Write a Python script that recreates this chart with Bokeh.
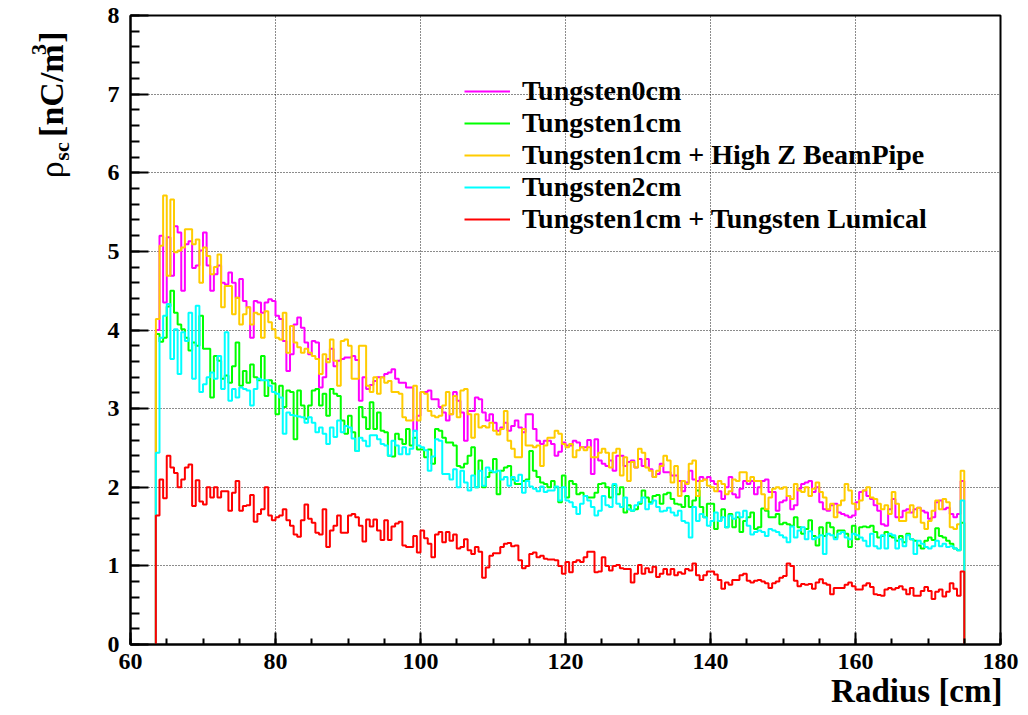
import numpy as np
from bokeh.plotting import figure
from bokeh.layouts import row
from bokeh.models import FixedTicker, Legend, LegendItem, Title
from bokeh.core.properties import value
from bokeh.embed import file_html
from bokeh.resources import INLINE

# ---------------- data ----------------
bin_lo = 63.5
bin_width = 0.5

x_ticks = [60, 80, 100, 120, 140, 160, 180]
y_ticks = [0, 1, 2, 3, 4, 5, 6, 7, 8]

names = ["Tungsten0cm", "Tungsten1cm", "Tungsten1cm + High Z BeamPipe",
         "Tungsten2cm", "Tungsten1cm + Tungsten Lumical"]
colors = ["#ff00ff", "#00ff00", "#ffcc00", "#00ffff", "#ff0000"]

tungsten0cm = [
    4.00, 5.20, 4.35, 5.18, 4.69, 5.32, 5.24, 4.50, 5.09, 5.13,
    4.79, 4.82, 5.01, 5.24, 4.82, 4.50, 4.71, 4.82, 4.60, 4.58,
    4.73, 4.60, 4.41, 4.65, 4.37, 4.29, 3.90, 4.37, 4.35, 4.22,
    4.35, 4.39, 4.37, 4.18, 4.14, 3.86, 3.48, 3.69, 4.07, 4.16,
    4.03, 3.84, 3.69, 3.86, 3.84, 3.27, 3.40, 3.63, 3.76, 3.54,
    3.61, 3.63, 3.65, 3.65, 3.67, 3.62, 3.10, 3.40, 3.25, 3.30,
    3.35, 3.40, 3.40, 3.44, 3.46, 3.50, 3.38, 3.33, 3.33, 3.27,
    3.27, 2.72, 2.91, 3.21, 3.21, 3.23, 3.12, 3.12, 3.02, 2.95,
    2.85, 2.93, 3.21, 3.10, 2.95, 2.59, 2.97, 2.97, 3.14, 3.12,
    2.95, 2.85, 2.93, 2.82, 2.72, 2.76, 2.82, 2.72, 2.78, 2.85,
    2.76, 2.70, 2.93, 2.93, 2.74, 2.59, 2.55, 2.59, 2.59, 2.55,
    2.40, 2.45, 2.57, 2.53, 2.53, 2.59, 2.57, 2.51, 2.51, 2.60,
    2.17, 2.61, 2.34, 2.30, 2.27, 2.34, 2.21, 2.40, 2.40, 2.27,
    2.32, 2.34, 2.25, 2.36, 2.27, 2.36, 2.23, 2.13, 2.17, 2.30,
    2.19, 2.19, 2.15, 2.15, 2.08, 1.95, 2.06, 2.21, 2.10, 2.08,
    2.13, 2.10, 2.13, 2.08, 2.04, 1.95, 1.85, 2.00, 2.13, 1.91,
    1.87, 1.98, 2.08, 2.04, 2.08, 1.91, 2.00, 2.08, 2.10, 1.94,
    1.94, 1.70, 1.81, 1.83, 1.89, 1.72, 1.77, 1.98, 2.04, 2.06,
    2.08, 1.94, 2.00, 1.81, 1.72, 1.70, 1.77, 1.79, 1.68, 1.66,
    1.64, 1.62, 1.64, 1.81, 1.94, 1.96, 1.89, 1.85, 1.77, 1.70,
    1.53, 1.51, 1.72, 1.85, 1.62, 1.62, 1.70, 1.72, 1.68, 1.72,
    1.74, 1.70, 1.68, 1.60, 1.62, 1.81, 1.83, 1.72, 1.74, 1.66,
    1.62, 1.66, 2.08,
]

tungsten1cm = [
    3.95, 3.85, 3.90, 4.30, 4.50, 4.22, 4.07, 4.01, 3.90, 3.74,
    3.84, 3.80, 4.18, 3.76, 3.76, 3.14, 3.67, 3.61, 3.38, 3.42,
    3.33, 3.54, 3.84, 3.29, 3.48, 3.33, 3.56, 3.40, 3.36, 3.67,
    3.16, 3.36, 3.32, 2.93, 3.29, 3.02, 3.23, 3.21, 2.61, 3.23,
    3.04, 2.87, 3.04, 3.23, 3.25, 3.04, 3.19, 2.91, 3.25, 3.19,
    3.16, 2.85, 2.68, 2.91, 2.70, 2.46, 3.02, 2.89, 2.74, 3.08,
    2.74, 2.95, 2.72, 2.70, 2.40, 2.39, 2.68, 2.61, 2.55, 2.74,
    2.53, 2.63, 2.48, 2.48, 2.38, 2.48, 2.30, 2.74, 2.72, 2.63,
    2.57, 2.57, 2.53, 2.27, 2.25, 2.30, 2.40, 2.51, 2.00, 2.34,
    2.00, 2.13, 2.19, 2.36, 1.91, 2.21, 2.25, 2.27, 2.10, 2.04,
    2.04, 2.08, 2.10, 2.46, 2.21, 2.13, 2.06, 2.04, 2.00, 2.08,
    2.00, 1.81, 2.15, 1.87, 2.08, 2.04, 1.91, 1.93, 1.89, 1.87,
    1.87, 1.93, 2.04, 2.05, 2.00, 1.87, 2.03, 1.91, 2.00, 1.68,
    1.77, 1.70, 1.72, 1.79, 1.96, 1.87, 1.81, 1.89, 1.90, 1.79,
    1.91, 1.93, 1.85, 1.79, 1.78, 1.75, 1.89, 1.75, 1.83, 1.96,
    1.75, 1.62, 1.79, 1.79, 1.47, 1.57, 1.72, 1.49, 1.66, 1.49,
    1.62, 1.43, 1.57, 1.62, 1.68, 1.47, 1.49, 1.73, 1.70, 1.62,
    1.62, 1.66, 1.53, 1.55, 1.53, 1.51, 1.62, 1.49, 1.41, 1.47,
    1.58, 1.38, 1.26, 1.49, 1.38, 1.55, 1.49, 1.36, 1.45, 1.45,
    1.41, 1.24, 1.51, 1.34, 1.49, 1.50, 1.49, 1.51, 1.43, 1.36,
    1.38, 1.43, 1.38, 1.36, 1.32, 1.38, 1.30, 1.41, 1.34, 1.32,
    1.26, 1.22, 1.32, 1.36, 1.33, 1.48, 1.38, 1.36, 1.32, 1.28,
    1.22, 1.20, 1.55,
]

tungsten1cm_highz = [
    4.14, 5.07, 5.71, 4.69, 5.66, 4.99, 5.01, 5.05, 5.28, 5.28,
    5.09, 5.15, 4.60, 5.05, 4.94, 4.71, 4.80, 4.96, 4.29, 4.56,
    4.56, 4.20, 4.41, 4.07, 4.20, 4.29, 4.07, 4.22, 4.20, 3.90,
    4.24, 4.10, 4.01, 3.90, 3.88, 4.22, 3.71, 4.05, 3.84, 3.78,
    3.71, 3.76, 3.71, 3.67, 3.63, 3.44, 3.69, 3.59, 3.88, 3.61,
    3.29, 3.86, 3.88, 3.80, 3.38, 3.38, 3.80, 3.80, 3.29, 3.21,
    3.40, 3.19, 3.40, 3.33, 3.35, 3.21, 3.21, 3.19, 2.89, 2.85,
    2.85, 3.29, 2.85, 3.21, 3.19, 2.97, 2.91, 2.89, 2.91, 3.04,
    3.21, 2.93, 3.16, 2.89, 3.23, 3.25, 2.93, 2.63, 2.93, 2.76,
    2.78, 2.76, 2.82, 2.72, 2.67, 2.74, 2.97, 2.59, 2.49, 2.38,
    2.38, 2.74, 2.53, 2.53, 2.51, 2.53, 2.27, 2.53, 2.63, 2.63,
    2.72, 2.68, 2.55, 2.51, 2.55, 2.38, 2.47, 2.51, 2.47, 2.51,
    2.38, 2.38, 2.44, 2.49, 2.44, 2.25, 2.44, 2.49, 2.15, 2.38,
    2.08, 2.32, 2.25, 2.49, 2.44, 2.25, 2.21, 2.13, 2.21, 2.27,
    2.40, 2.34, 2.06, 2.27, 1.89, 2.08, 2.04, 2.30, 2.34, 1.89,
    2.08, 2.10, 2.02, 2.00, 1.95, 2.08, 2.04, 1.91, 1.95, 2.10,
    2.08, 2.19, 2.19, 2.08, 2.13, 2.08, 2.08, 1.91, 1.72, 1.87,
    1.98, 2.00, 1.98, 2.00, 1.89, 1.85, 2.04, 1.96, 1.94, 2.00,
    1.89, 1.98, 2.06, 1.94, 1.87, 1.72, 1.79, 1.62, 1.77, 1.83,
    2.04, 1.96, 1.79, 1.72, 1.83, 1.96, 2.00, 1.87, 1.85, 1.79,
    1.72, 1.77, 1.66, 1.94, 1.79, 1.57, 1.57, 1.68, 1.77, 1.62,
    1.74, 1.55, 1.47, 1.57, 1.70, 1.83, 1.72, 1.85, 1.81, 1.49,
    1.47, 1.53, 2.21,
]

tungsten2cm = [
    2.44, 3.90, 4.18, 4.33, 3.63, 4.01, 3.44, 3.97, 3.86, 4.22,
    3.38, 4.31, 3.21, 3.31, 3.40, 3.46, 3.38, 3.67, 3.25, 3.97,
    3.10, 3.25, 3.14, 3.27, 3.25, 3.23, 3.04, 3.25, 3.38, 3.36,
    3.36, 3.29, 3.21, 3.19, 3.14, 2.68, 2.95, 2.92, 2.91, 2.90,
    2.89, 2.82, 2.89, 2.82, 2.70, 2.76, 2.68, 2.55, 2.76, 2.64,
    2.85, 2.70, 2.78, 2.76, 2.62, 2.46, 2.63, 2.59, 2.52, 2.66,
    2.66, 2.61, 2.55, 2.53, 2.40, 2.59, 2.53, 2.42, 2.51, 2.42,
    2.49, 2.72, 2.53, 2.51, 2.47, 2.21, 2.39, 2.61, 2.59, 2.17,
    2.17, 2.10, 2.23, 2.00, 2.21, 2.06, 1.96, 2.15, 2.00, 2.21,
    2.02, 2.25, 2.21, 2.19, 2.21, 2.10, 2.13, 2.02, 2.13, 2.08,
    2.16, 1.93, 2.08, 2.01, 1.98, 1.95, 2.01, 1.94, 1.96, 1.96,
    2.01, 1.83, 2.00, 1.83, 1.81, 1.75, 1.66, 1.79, 1.89, 1.83,
    1.75, 1.64, 1.70, 1.89, 1.77, 1.75, 2.04, 1.79, 1.75, 1.87,
    1.72, 1.70, 1.77, 1.81, 1.87, 1.72, 1.79, 1.83, 1.75, 1.69,
    1.70, 1.74, 1.68, 1.64, 1.70, 1.57, 1.55, 1.36, 1.75, 1.57,
    1.66, 1.62, 1.51, 1.57, 1.68, 1.57, 1.62, 1.49, 1.64, 1.60,
    1.68, 1.62, 1.70, 1.51, 1.40, 1.43, 1.45, 1.43, 1.38, 1.47,
    1.45, 1.43, 1.39, 1.36, 1.30, 1.50, 1.36, 1.45, 1.49, 1.34,
    1.44, 1.34, 1.36, 1.39, 1.15, 1.41, 1.39, 1.34, 1.41, 1.43,
    1.36, 1.34, 1.41, 1.39, 1.36, 1.32, 1.25, 1.41, 1.25, 1.22,
    1.39, 1.22, 1.41, 1.39, 1.22, 1.34, 1.25, 1.39, 1.34, 1.15,
    1.32, 1.28, 1.24, 1.22, 1.25, 1.32, 1.25, 1.28, 1.24, 1.25,
    1.22, 1.20, 1.83,
]

tungsten1cm_lumical = [
    1.64, 2.10, 1.86, 2.40, 2.25, 2.18, 2.00, 2.10, 2.25, 2.29,
    1.76, 2.09, 1.82, 1.78, 2.00, 1.87, 2.00, 1.87, 1.95, 1.95,
    1.70, 1.93, 2.08, 1.70, 1.76, 1.77, 1.90, 1.56, 1.66, 1.72,
    2.00, 1.64, 1.58, 1.62, 1.64, 1.72, 1.58, 1.51, 1.40, 1.37,
    1.58, 1.78, 1.60, 1.55, 1.42, 1.40, 1.72, 1.24, 1.45, 1.51,
    1.64, 1.42, 1.42, 1.64, 1.66, 1.62, 1.51, 1.31, 1.59, 1.50,
    1.59, 1.45, 1.33, 1.58, 1.33, 1.50, 1.54, 1.56, 1.26, 1.24,
    1.24, 1.38, 1.17, 1.45, 1.35, 1.28, 1.11, 1.40, 1.43, 1.30,
    1.43, 1.32, 1.40, 1.22, 1.24, 1.34, 1.20, 1.15, 1.24, 1.18,
    0.85, 0.98, 1.13, 1.16, 1.16, 1.24, 1.28, 1.29, 1.25, 1.26,
    1.07, 0.97, 1.00, 1.15, 1.17, 1.11, 1.13, 1.09, 1.08, 1.08,
    1.07, 1.00, 0.90, 1.05, 0.92, 1.05, 1.07, 1.05, 1.11, 1.18,
    1.18, 0.92, 0.93, 1.11, 1.00, 0.94, 1.00, 1.01, 0.97, 0.96,
    0.96, 0.79, 0.90, 1.01, 0.90, 0.97, 0.92, 0.99, 0.86, 0.90,
    0.96, 0.89, 0.96, 0.88, 0.92, 0.90, 0.96, 0.94, 1.03, 0.88,
    0.82, 0.88, 0.93, 0.93, 0.89, 0.82, 0.71, 0.79, 0.76, 0.82,
    0.82, 0.88, 0.90, 0.81, 0.79, 0.81, 0.82, 0.80, 0.78, 0.72,
    0.78, 0.80, 0.85, 0.87, 1.03, 1.00, 0.81, 0.74, 0.77, 0.76,
    0.77, 0.71, 0.79, 0.83, 0.78, 0.76, 0.64, 0.72, 0.72, 0.72,
    0.76, 0.79, 0.74, 0.70, 0.70, 0.75, 0.78, 0.73, 0.64, 0.63,
    0.62, 0.70, 0.72, 0.70, 0.72, 0.74, 0.70, 0.64, 0.72, 0.62,
    0.62, 0.68, 0.73, 0.68, 0.58, 0.67, 0.70, 0.61, 0.67, 0.78,
    0.71, 0.62, 0.93,
]

series = [tungsten0cm, tungsten1cm, tungsten1cm_highz, tungsten2cm, tungsten1cm_lumical]

# ---------------- layout constants (page pixels) ----------------
TOTAL_W, TOTAL_H = 1026, 715
STRIP_W = 90                     # left strip holding the y-axis title
FRAME_L, FRAME_R, FRAME_T, FRAME_B = 130, 1000, 15, 644
SERIF = "Liberation Serif"

MAIN_W = TOTAL_W - STRIP_W

p = figure(width=MAIN_W, height=TOTAL_H, x_range=(60, 180), y_range=(0, 8),
           output_backend="svg", toolbar_location=None,
           min_border_left=FRAME_L - STRIP_W,
           min_border_right=TOTAL_W - FRAME_R,
           min_border_top=FRAME_T, min_border_bottom=TOTAL_H - FRAME_B)
p.background_fill_color = "white"
p.border_fill_color = "white"
p.outline_line_color = "black"
p.outline_line_width = 2

# axes
p.xaxis.ticker = FixedTicker(ticks=x_ticks,
                             minor_ticks=list(np.arange(60, 180.1, 5.0)))
p.yaxis.ticker = FixedTicker(ticks=y_ticks,
                             minor_ticks=list(np.arange(0, 8.01, 0.2)))
for ax in (p.xaxis[0], p.yaxis[0]):
    ax.axis_line_width = 2
    ax.axis_line_color = "black"
    ax.major_tick_line_width = 2
    ax.minor_tick_line_width = 2
    ax.major_tick_out = 0
    ax.minor_tick_out = 0
    ax.major_label_text_font = SERIF
    ax.major_label_text_font_style = "bold"
    ax.major_label_text_font_size = "24px"
    ax.major_label_text_color = "black"
p.xaxis.major_tick_in = 12
p.xaxis.minor_tick_in = 6
p.yaxis.major_tick_in = 18
p.yaxis.minor_tick_in = 9
p.xaxis.major_label_standoff = 9
p.yaxis.major_label_standoff = 11

# x-axis title, right aligned with the frame, below the tick labels
p.add_layout(Title(text="Radius [cm]", align="right", offset=-2, standoff=2,
                   vertical_align="top", text_font=SERIF,
                   text_font_style="bold", text_font_size="33px",
                   text_color="black"), "below")

p.grid.grid_line_color = "black"
p.grid.grid_line_dash = "1 2"
p.grid.grid_line_width = 1
p.grid.grid_line_alpha = 0.9

# histograms
edges = bin_lo + bin_width * np.arange(len(tungsten0cm) + 1)
items = []
for name, col, vals in zip(names, colors, series):
    xs = np.concatenate([[edges[0]], edges[:len(vals) + 1]])
    ys = np.concatenate([[0.0], np.asarray(vals, dtype=float), [0.0]])
    r = p.step(xs, ys, mode="after", line_color=col, line_width=2)
    items.append(LegendItem(label=name, renderers=[r]))

# legend: location = bottom-left corner, in px from frame bottom-left
legend = Legend(items=items, location=(464 - FRAME_L, FRAME_B - 235),
                padding=0, margin=0, spacing=0, glyph_width=46,
                glyph_height=20, label_height=20, label_standoff=12,
                background_fill_alpha=0, border_line_alpha=0,
                label_text_font=SERIF, label_text_font_style="bold",
                label_text_font_size="28px", label_text_color="black")
p.add_layout(legend, "center")

# ---------------- y-axis title strip ----------------
yt = figure(width=STRIP_W, height=TOTAL_H, x_range=(0, STRIP_W),
            y_range=(0, TOTAL_H), output_backend="svg",
            toolbar_location=None, x_axis_type=None, y_axis_type=None,
            min_border=0, min_border_left=0, min_border_right=0,
            min_border_top=0, min_border_bottom=0)
yt.outline_line_color = None
yt.grid.visible = False
yt.background_fill_color = "white"
yt.border_fill_color = "white"

ytitle_parts = [
    # text, baseline page x, start page y, size, style
    ("\u03c1", 51, 185, "34px", "normal"),
    ("sc", 61, 165, "22px", "bold"),
    ("[nC/m", 51, 138, "34px", "bold"),
    ("3", 38, 45, "22px", "bold"),
    ("]", 51, 31, "34px", "bold"),
]
for txt, bx, by, size, style in ytitle_parts:
    yt.text(x=[bx], y=[TOTAL_H - by], text=[txt], angle=np.pi / 2,
            text_align="left", text_baseline="alphabetic",
            text_font=value(SERIF), text_font_style=style,
            text_font_size=size, text_color="black")

layout = row(yt, p)
open("out.html", "w").write(file_html(layout, INLINE))
